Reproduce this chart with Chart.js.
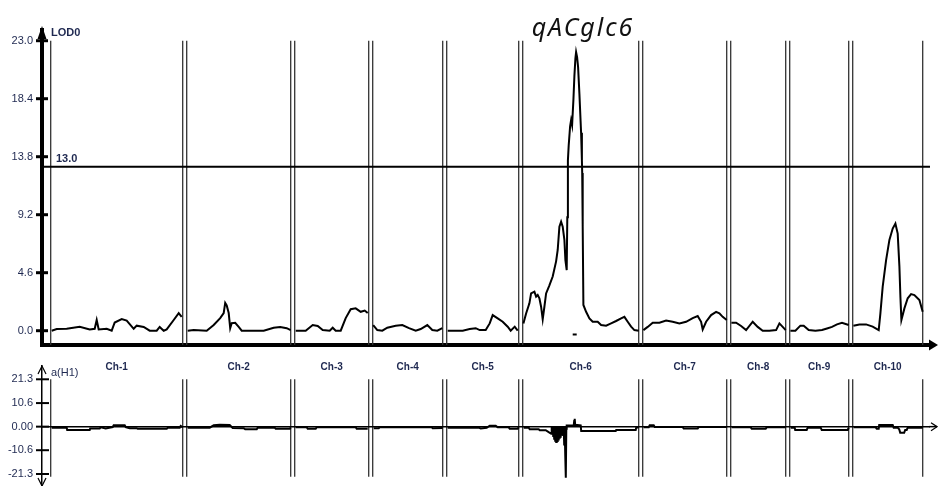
<!DOCTYPE html>
<html><head><meta charset="utf-8">
<script src="https://cdn.jsdelivr.net/npm/chart.js@4.4.1/dist/chart.umd.min.js"></script>
<style>
html,body{margin:0;padding:0;background:#fff;}
body{width:938px;height:486px;position:relative;overflow:hidden;}
#top{position:absolute;left:0;top:0;}
#bot{position:absolute;left:0;top:356px;}
#title{position:absolute;top:14px;left:483px;width:200px;text-align:center;font-family:"Noto Sans";font-style:italic;font-size:25px;line-height:1;letter-spacing:2px;color:#111;}
</style></head><body>
<canvas id="top" width="938" height="385"></canvas>
<canvas id="bot" width="938" height="130"></canvas>
<div id="title">qACglc6</div>
<script>
// ---- data ----
const chromosomes = ['Ch-1','Ch-2','Ch-3','Ch-4','Ch-5','Ch-6','Ch-7','Ch-8','Ch-9','Ch-10'];
const chrLengths = [132,104,74,70,72,116,84,55,59,70];
const chrGap = 4;
const lodTicks = [0,4.6,9.2,13.8,18.4,23.0];
const lodThreshold = 13.0;
const addTicks = [21.3,10.6,0,-10.6,-21.3];
const addTickLabels = ['21.3','10.6','0.00','-10.6','-21.3'];

// LOD profiles: [position within chromosome, LOD]
const lodCh1 = [[1,0],[6,0.13],[16,0.15],[29,0.32],[39,0.1],[44,0.15],[46,0.85],[48,0.1],[56,0.15],[61,0],[64,0.65],[71,0.92],[76,0.8],[83,0.15],[86,0.4],[93,0.3],[99,0],[106,0],[109,0.3],[113,0],[116,0.1],[123,0.85],[128,1.4],[131,1.1]];
const lodCh2 = [[1,0],[7,0.05],[20,0],[27,0.45],[33.5,1.0],[37,1.4],[38.5,2.2],[40,2.0],[42,1.4],[43.5,0.2],[45,0.6],[48.5,0.63],[52,0.3],[55,0],[60,0],[77,0],[87,0.24],[93.5,0.3],[100,0.2],[104,0.05]];
const lodCh3 = [[1,0],[11,0],[18,0.45],[23,0.37],[28,0.05],[35,0],[38,0.24],[41,0],[46,0],[51,1.0],[56,1.7],[61,1.77],[66,1.5],[70,1.6],[73,1.4]];
const lodCh4 = [[0.5,0.45],[4.6,0.05],[9.6,0],[14.6,0.24],[23,0.4],[29.6,0.45],[36.3,0.2],[43,0],[48,0.13],[54.6,0.45],[59.6,0.05],[64.6,0],[69.6,0.2]];
const lodCh5 = [[1,0],[16,0],[23,0.13],[29,0.2],[33,0.05],[39,0.05],[43,0.58],[46,1.24],[51,0.98],[56,0.71],[61,0.32],[64,0],[68,0.32],[71,0]];
const lodCh6 = [[0.7,0.58],[3.4,1.37],[6.7,2.17],[8.4,2.96],[11.7,3.1],[13.4,2.7],[15,2.83],[16.7,2.57],[18.4,1.9],[20,0.9],[21.7,1.9],[23.4,2.96],[26.7,3.6],[30,4.3],[33.4,5.5],[35,6.4],[36.7,8.25],[38.4,8.65],[40,8.25],[41.7,7.2],[42.7,5.6],[44,4.8],[44.6,9],[45.2,13.5],[46,14.7],[47.4,16.2],[48.4,16.7],[49.4,16.3],[50.7,18.3],[51.7,20.2],[52.7,21.6],[53.4,22.1],[54.4,21.7],[55.4,20.9],[56.7,18.8],[58.4,15.7],[59.2,13.5],[59.5,12.5],[60,8.25],[60.7,2.04],[63.4,1.5],[66.7,0.98],[70,0.71],[75,0.71],[78.4,0.45],[83.4,0.4],[88.4,0.58],[93.4,0.77],[98.4,0.98],[101.7,1.1],[105,0.71],[108.4,0.32],[111.7,0.05],[116,0]];
const lodCh7 = [[0.7,0.05],[5,0.3],[10,0.63],[16.7,0.63],[23.4,0.8],[30,0.71],[36.7,0.58],[43.4,0.71],[50,1.0],[55,1.16],[58.4,0.71],[60,0.1],[63.4,0.71],[68.4,1.24],[73.4,1.5],[76.7,1.38],[80,1.1],[84,0.85]];
const lodCh8 = [[0.7,0.63],[5.4,0.63],[10.4,0.37],[15.4,0.05],[22,0.71],[27,0.3],[32,0],[38.7,0],[45.4,0.05],[48.7,0.58],[52,0.3],[55,0.05]];
const lodCh9 = [[0.7,0],[5.7,0],[10.7,0.4],[14,0.4],[19,0.05],[25.7,0],[32.3,0.05],[37.3,0.18],[42.3,0.3],[47.3,0.5],[52.3,0.63],[59,0.45]];
const lodCh10 = [[0.7,0.4],[6.7,0.5],[13.4,0.5],[20,0.32],[26,0.05],[27.7,1.38],[30,3.5],[33.4,5.6],[36.7,7.2],[40,8.1],[42.7,8.5],[45,7.7],[46.7,5.1],[47.7,2.7],[48.7,0.85],[51.7,1.77],[55,2.57],[58.4,2.9],[61.7,2.83],[66.7,2.43],[70,1.5]];

// additive effect a(H1): [position within chromosome, effect]
const addCh1 = [[1,-0.5],[16,-0.5],[16.5,-1.5],[39,-1.5],[39.5,-0.8],[49,-0.8],[50,-0.3],[55,-0.8],[62,-0.2],[63,0.6],[74,0.6],[75,-0.2],[79,-0.7],[86,-0.7],[87,-1.0],[116,-1.0],[117,-0.5],[129,-0.5],[130,0.3],[132,-0.3]];
const addCh2 = [[1,-0.45],[23,-0.45],[27,0.6],[33,0.8],[43,0.7],[46,-0.6],[57,-0.7],[58.5,-1.2],[70,-1.2],[71,-0.45],[88,-0.45],[89,-1.0],[103,-1.0],[104,-0.4]];
const addCh3 = [[1,-0.3],[12,-0.3],[13,-1.0],[21,-1.0],[22,-0.3],[61,-0.3],[62,-1.0],[73,-1.0]];
const addCh4 = [[1,-0.75],[6,-0.75],[7,-0.3],[59,-0.3],[60,-0.75],[70,-0.6]];
const addCh5 = [[1,-0.45],[32,-0.45],[34,-0.8],[40,-0.5],[43,0.4],[49,0.4],[51,-0.3],[62,-0.3],[63,-0.9],[71,-0.9],[72,-0.3]];
const addCh6 = [[1,-0.5],[6,-0.5],[7,-1.2],[16,-1.2],[17,-1.6],[23,-1.6],[26,-2.5],[28.5,-3.2],[29,0],[29.5,-3.2],[30,-0.2],[30.5,-4.2],[31,0],[31.5,-5.5],[32,0],[32.5,-6.3],[33,-0.3],[33.5,-6.9],[34,0],[34.5,-6.5],[35,0],[35.5,-5.8],[36,-0.2],[36.5,-5],[37,0],[37.5,-4.5],[38,0],[38.5,-3.6],[39,-0.2],[39.5,-3.5],[40,0],[40.5,-3.8],[41,0],[41.5,-8],[42,0],[42.5,-12],[43,-1],[43.2,-23],[43.6,-1],[44,0.5],[45,0.5],[51,0.5],[51.5,2.5],[52,3.5],[52.5,0.8],[58,0.6],[58.5,-2.0],[93,-2.0],[93.5,-1.5],[113,-1.5],[113.5,-0.5],[116,-0.3]];
const addCh7 = [[1,-0.3],[6,-0.3],[7,0.6],[11,0.6],[12,-0.2],[40,-0.2],[41,-0.8],[55,-0.8],[56,-0.2],[84,-0.2]];
const addCh8 = [[1,-0.3],[20,-0.3],[21,-0.9],[35,-0.9],[36,-0.3],[55,-0.3]];
const addCh9 = [[1,-0.45],[5,-0.45],[5.5,-1.5],[17,-1.5],[18,-0.45],[31,-0.45],[32,-1.5],[58,-1.5],[59,-0.5]];
const addCh10 = [[1,-0.3],[23,-0.3],[24,-0.9],[26,-0.9],[26.5,0.75],[40,0.75],[41,-0.45],[45,-0.45],[46.5,-1.2],[47.5,-2.7],[51.5,-2.7],[52.5,-1.5],[54,-1.5],[55,-0.45],[70,-0.45]];

// QTL support-interval marker on Ch-6 (position, LOD)
const qtlChr = 5;
const qtlInterval = [[50,-0.3],[54,-0.3]];

// ---- build ----
const lodByChr = [lodCh1,lodCh2,lodCh3,lodCh4,lodCh5,lodCh6,lodCh7,lodCh8,lodCh9,lodCh10];
const addByChr = [addCh1,addCh2,addCh3,addCh4,addCh5,addCh6,addCh7,addCh8,addCh9,addCh10];
const chrStart = [];
{ let acc = 0; chrLengths.forEach(L => { chrStart.push(acc); acc += L + chrGap; }); }

const X_MIN = -8.7, X_MAX = 879.3;
const LOD_MIN = -1.134, LOD_MAX = 23.85;
const ADD_MIN = -26.7, ADD_MAX = 27.28;
const INK = '#1e2850';
const BOUND = '#333';

function line(data, color, width, order){
  return {data, showLine:true, borderColor:color, backgroundColor:color, borderWidth:width,
          pointRadius:0, pointHoverRadius:0, fill:false, tension:0, order:order};
}
function bounds(yLo, yHi){
  const ds = [];
  chrStart.forEach((s,i)=>{
    ds.push(line([{x:s,y:yLo},{x:s,y:yHi}], BOUND, 1.3, 5));
    ds.push(line([{x:s+chrLengths[i],y:yLo},{x:s+chrLengths[i],y:yHi}], BOUND, 1.3, 5));
  });
  return ds;
}

const topDatasets = [
  ...bounds(LOD_MIN, 23.0),
  line([{x:X_MIN,y:lodThreshold},{x:X_MAX,y:lodThreshold}], '#000', 2, 4),
  ...lodByChr.map((arr,i)=>line(arr.map(([p,v])=>({x:chrStart[i]+p,y:v})), '#000', 2, 1)),
  line(qtlInterval.map(([p,v])=>({x:chrStart[qtlChr]+p,y:v})), '#000', 2, 1)
];

const botDatasets = [
  ...bounds(-22.5, 21.3),
  line([{x:X_MIN,y:0},{x:X_MAX,y:0}], '#000', 1.5, 4),
  ...addByChr.map((arr,i)=>line(arr.map(([p,v])=>({x:chrStart[i]+p,y:v})), '#000', 2, 1))
];

const topPlugin = {
  id:'topDeco',
  afterDraw(chart){
    const {ctx, chartArea:a, scales:{x,y}} = chart;
    ctx.save();
    ctx.strokeStyle='#000'; ctx.fillStyle='#000'; ctx.lineWidth=3;
    lodTicks.forEach(v=>{ const py=y.getPixelForValue(v); ctx.beginPath(); ctx.moveTo(a.left-6,py); ctx.lineTo(a.left+6,py); ctx.stroke(); });
    ctx.beginPath(); ctx.moveTo(a.left,a.top-4); ctx.lineTo(a.left-4.5,a.top+9); ctx.lineTo(a.left+4.5,a.top+9); ctx.closePath(); ctx.fill();
    ctx.beginPath(); ctx.moveTo(a.right+8,a.bottom); ctx.lineTo(a.right-1,a.bottom-5.5); ctx.lineTo(a.right-1,a.bottom+5.5); ctx.closePath(); ctx.fill();
    ctx.fillStyle=INK; ctx.textBaseline='middle'; ctx.textAlign='left';
    ctx.font='bold 11px "Liberation Sans"';
    ctx.fillText('LOD0', a.left+9, a.top+3);
    ctx.fillText(lodThreshold.toFixed(1), a.left+14, y.getPixelForValue(lodThreshold)-8);
    ctx.textAlign='center'; ctx.font='bold 10px "Liberation Sans"';
    chromosomes.forEach((c,i)=>ctx.fillText(c, x.getPixelForValue(chrStart[i]+chrLengths[i]/2), a.bottom+22));
    ctx.restore();
  }
};
const botPlugin = {
  id:'botDeco',
  afterDraw(chart){
    const {ctx, chartArea:a, scales:{y}} = chart;
    ctx.save();
    ctx.strokeStyle='#000'; ctx.lineWidth=2;
    addTicks.forEach(v=>{ const py=y.getPixelForValue(v); ctx.beginPath(); ctx.moveTo(a.left-6,py); ctx.lineTo(a.left+7,py); ctx.stroke(); });
    ctx.lineWidth=1.2;
    ctx.beginPath(); ctx.moveTo(a.left-4,a.top+8); ctx.lineTo(a.left,a.top); ctx.lineTo(a.left+4,a.top+8); ctx.stroke();
    ctx.beginPath(); ctx.moveTo(a.left-4,a.bottom-8); ctx.lineTo(a.left,a.bottom); ctx.lineTo(a.left+4,a.bottom-8); ctx.stroke();
    const z=y.getPixelForValue(0);
    ctx.lineWidth=1.5;
    ctx.beginPath(); ctx.moveTo(a.right-1,z); ctx.lineTo(a.right+7,z); ctx.stroke();
    ctx.lineWidth=1.2;
    ctx.beginPath(); ctx.moveTo(a.right+1,z-4); ctx.lineTo(a.right+7,z); ctx.lineTo(a.right+1,z+4); ctx.stroke();
    ctx.font='11px "Liberation Sans"'; ctx.fillStyle=INK; ctx.textAlign='left'; ctx.textBaseline='middle';
    ctx.fillText('a(H1)', a.left+9, a.top+7);
    ctx.restore();
  }
};

function zeroPad(s){ s.paddingTop=0; s.paddingBottom=0; s.paddingLeft=0; s.paddingRight=0; }

new Chart(document.getElementById('top'), {
  type:'scatter',
  data:{datasets:topDatasets},
  options:{
    responsive:false, animation:false, devicePixelRatio:1,
    layout:{padding:{top:30,right:8,left:0,bottom:0}},
    plugins:{legend:{display:false},tooltip:{enabled:false}},
    scales:{
      x:{type:'linear',min:X_MIN,max:X_MAX,ticks:{display:false},grid:{display:false,drawTicks:false},
         border:{display:true,width:4,color:'#000'}, afterFit(s){ s.height=40; zeroPad(s); }},
      y:{type:'linear',min:LOD_MIN,max:LOD_MAX,
         afterBuildTicks(s){ s.ticks=lodTicks.map(v=>({value:v})); },
         ticks:{autoSkip:false,padding:9,font:{family:'Liberation Sans',size:11},color:INK,callback:v=>Number(v).toFixed(1)},
         grid:{display:false,drawTicks:false}, border:{display:true,width:4,color:'#000'},
         afterFit(s){ s.width=42; zeroPad(s); }}
    }
  },
  plugins:[topPlugin]
});

new Chart(document.getElementById('bot'), {
  type:'scatter',
  data:{datasets:botDatasets},
  options:{
    responsive:false, animation:false, devicePixelRatio:1,
    layout:{padding:{top:10,right:8,left:0,bottom:0}},
    plugins:{legend:{display:false},tooltip:{enabled:false}},
    scales:{
      x:{type:'linear',min:X_MIN,max:X_MAX,display:false},
      y:{type:'linear',min:ADD_MIN,max:ADD_MAX,
         afterBuildTicks(s){ s.ticks=addTicks.map(v=>({value:v})); },
         ticks:{autoSkip:false,padding:9,font:{family:'Liberation Sans',size:11},color:INK,callback:(v,i)=>addTickLabels[i]},
         grid:{display:false,drawTicks:false}, border:{display:true,width:1.5,color:'#000'},
         afterFit(s){ s.width=42; zeroPad(s); }}
    }
  },
  plugins:[botPlugin]
});
</script>
</body></html>
